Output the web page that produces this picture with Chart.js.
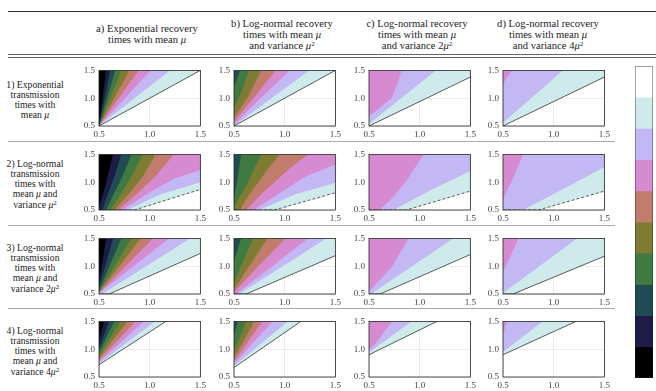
<!DOCTYPE html>
<html><head><meta charset="utf-8">
<script src="https://cdn.jsdelivr.net/npm/chart.js@4.4.0/dist/chart.umd.min.js"></script>
<style>
body{margin:0;width:656px;height:391px;background:#fff;position:relative;overflow:hidden;font-family:"Liberation Serif","Times New Roman","DejaVu Serif","Noto Serif",serif;color:#222}
.t{position:absolute;text-align:center;white-space:nowrap;transform:translate(-50%,-50%)}
.rule{position:absolute;height:0}
canvas{position:absolute}
sup{font-size:7px;line-height:0;vertical-align:3px}
</style></head><body>
<script>
// ---------- data ----------
const bandColors = ['#ffffff','#cfeaeb','#c3b7f4','#d68ad0','#c27c6d','#7e7c33','#3f7b40','#204c53','#1d1b47','#000000'];
const colorbarSteps = [1,1,1,1,1,1,1,1,1,1];
const tickValues = [0.5, 1, 1.5];
const colHeaders = [
  'a) Exponential recovery<br>times with mean <i>μ</i>',
  'b) Log-normal recovery<br>times with mean <i>μ</i><br>and variance <i>μ</i><sup>2</sup>',
  'c) Log-normal recovery<br>times with mean <i>μ</i><br>and variance 2<i>μ</i><sup>2</sup>',
  'd) Log-normal recovery<br>times with mean <i>μ</i><br>and variance 4<i>μ</i><sup>2</sup>'
];
const rowLabels = [
  '1) Exponential<br>transmission<br>times with<br>mean <i>μ</i>',
  '2) Log-normal<br>transmission<br>times with<br>mean <i>μ</i> and<br>variance <i>μ</i><sup>2</sup>',
  '3) Log-normal<br>transmission<br>times with<br>mean <i>μ</i> and<br>variance 2<i>μ</i><sup>2</sup>',
  '4) Log-normal<br>transmission<br>times with<br>mean <i>μ</i> and<br>variance 4<i>μ</i><sup>2</sup>'
];
// contour boundaries per panel: boundary k separates band k (below) from band k+1 (above)
const panel1a = [
  [[0.5,0.5],[1.5,1.5]], [[0.5,0.5],[1.20,1.5]], [[0.5,0.5],[1.01,1.5]], [[0.5,0.5],[0.89,1.5]],
  [[0.5,0.5],[0.80,1.5]], [[0.5,0.5],[0.72,1.5]], [[0.5,0.5],[0.66,1.5]], [[0.5,0.5],[0.61,1.5]], [[0.5,0.5],[0.57,1.5]]
];
const panel1b = [
  [[0.5,0.5],[1.5,1.5]], [[0.5,0.5],[1.24,1.5]], [[0.5,0.52],[0.76,1.0],[1.05,1.5]],
  [[0.5,0.57],[0.69,1.0],[0.91,1.5]], [[0.5,0.65],[0.63,1.0],[0.77,1.5]],
  [[0.5,0.82],[0.57,1.1],[0.65,1.5]], [[0.5,1.22],[0.56,1.5]]
];
const panel1c = [
  [[0.5,0.5],[1.5,1.38]], [[0.5,0.54],[1.16,1.5]],
  [[0.5,0.68],[0.6,0.82],[0.72,1.0],[0.78,1.25],[0.82,1.5]]
];
const panel1d = [
  [[0.5,0.5],[1.5,1.38]], [[0.5,0.56],[1.09,1.5]], [[0.5,1.27],[0.55,1.4],[0.59,1.5]]
];
const panel2a = [
  [[0.5,0.5],[0.85,0.5],[1.5,0.87]],
  [[0.5,0.5],[0.78,0.5],[1.1,0.78],[1.5,1.0]],
  [[0.5,0.5],[0.73,0.5],[1.0,0.82],[1.25,1.07],[1.5,1.22]],
  [[0.5,0.5],[0.69,0.5],[0.88,0.8],[1.05,1.1],[1.24,1.5]],
  [[0.5,0.5],[0.65,0.5],[0.8,0.8],[0.93,1.1],[1.06,1.5]],
  [[0.5,0.5],[0.61,0.5],[0.72,0.8],[0.82,1.1],[0.93,1.5]],
  [[0.5,0.5],[0.57,0.5],[0.65,0.8],[0.73,1.1],[0.82,1.5]],
  [[0.5,0.5],[0.53,0.5],[0.59,0.8],[0.65,1.1],[0.72,1.5]],
  [[0.5,0.55],[0.55,0.85],[0.59,1.15],[0.64,1.5]]
];
const panel2b = [
  [[0.5,0.5],[0.9,0.5],[1.5,0.81]],
  [[0.5,0.5],[0.75,0.5],[1.1,0.78],[1.5,0.99]],
  [[0.5,0.5],[0.69,0.5],[0.95,0.8],[1.2,1.1],[1.5,1.32]],
  [[0.5,0.5],[0.62,0.5],[0.75,0.75],[0.9,1.0],[1.05,1.25],[1.23,1.5]],
  [[0.5,0.5],[0.56,0.5],[0.64,0.75],[0.74,1.0],[0.84,1.25],[0.95,1.5]],
  [[0.5,0.55],[0.56,0.75],[0.64,1.0],[0.7,1.25],[0.77,1.5]],
  [[0.5,0.73],[0.53,1.0],[0.55,1.25],[0.57,1.5]]
];
const panel2c = [
  [[0.5,0.5],[0.87,0.5],[1.5,0.84]],
  [[0.5,0.5],[0.74,0.5],[1.1,0.85],[1.5,1.2]],
  [[0.5,0.5],[0.6,0.5],[0.72,0.7],[0.86,1.0],[0.95,1.25],[1.04,1.5]]
];
const panel2d = [
  [[0.5,0.5],[0.85,0.5],[1.5,0.84]],
  [[0.5,0.5],[0.7,0.5],[1.5,1.27]],
  [[0.5,0.7],[0.58,1.0],[0.64,1.25],[0.7,1.5]]
];
const panel3a = [
  [[0.5,0.5],[0.6,0.5],[1.5,1.23]], [[0.5,0.5],[0.53,0.5],[1.40,1.5]], [[0.5,0.52],[1.19,1.5]],
  [[0.5,0.52],[1.03,1.5]], [[0.5,0.53],[0.91,1.5]], [[0.5,0.54],[0.82,1.5]],
  [[0.5,0.56],[0.72,1.5]], [[0.5,0.62],[0.64,1.5]], [[0.5,0.72],[0.57,1.5]]
];
const panel3b = [
  [[0.5,0.5],[0.62,0.5],[1.5,1.19]], [[0.5,0.5],[0.55,0.5],[1.41,1.5]], [[0.5,0.5],[0.52,0.5],[1.23,1.5]],
  [[0.5,0.53],[0.74,1.0],[1.01,1.5]], [[0.5,0.58],[0.65,1.0],[0.83,1.5]],
  [[0.5,0.7],[0.58,1.05],[0.69,1.5]], [[0.5,1.1],[0.57,1.5]]
];
const panel3c = [
  [[0.5,0.5],[0.61,0.5],[1.5,1.21]], [[0.5,0.5],[0.52,0.5],[1.33,1.5]],
  [[0.5,0.55],[0.6,0.74],[0.73,1.0],[0.81,1.25],[0.89,1.5]]
];
const panel3d = [
  [[0.5,0.5],[0.6,0.5],[1.5,1.18]], [[0.5,0.52],[1.23,1.5]], [[0.5,0.9],[0.58,1.2],[0.65,1.5]]
];
const panel4a = [
  [[0.5,0.72],[1.16,1.5]], [[0.5,0.74],[1.05,1.5]], [[0.5,0.77],[0.94,1.5]], [[0.5,0.8],[0.86,1.5]],
  [[0.5,0.84],[0.78,1.5]], [[0.5,0.88],[0.71,1.5]], [[0.5,0.94],[0.65,1.5]], [[0.5,1.02],[0.6,1.5]], [[0.5,1.16],[0.55,1.5]]
];
const panel4b = [
  [[0.5,0.67],[1.16,1.5]], [[0.5,0.7],[1.03,1.5]], [[0.5,0.74],[0.88,1.5]], [[0.5,0.78],[0.78,1.5]],
  [[0.5,0.84],[0.7,1.5]], [[0.5,0.96],[0.62,1.5]], [[0.5,1.25],[0.54,1.5]]
];
const panel4c = [
  [[0.5,0.9],[1.17,1.5]], [[0.5,0.94],[0.92,1.5]], [[0.5,0.98],[0.6,1.18],[0.67,1.37],[0.73,1.5]]
];
const panel4d = [
  [[0.5,0.9],[1.22,1.5]], [[0.5,0.95],[0.89,1.5]], [[0.5,1.27],[0.54,1.5]]
];
const panels = [
  [panel1a, panel1b, panel1c, panel1d],
  [panel2a, panel2b, panel2c, panel2d],
  [panel3a, panel3b, panel3c, panel3d],
  [panel4a, panel4b, panel4c, panel4d]
];
const dashedRows = [false, true, false, false];

// ---------- layout ----------
const plotLefts = [99, 234, 369, 503];
const plotTops = [67, 151, 235, 318];
const plotW = 102, plotH = 59;
const padL = 22, padT = 6, padR = 8, padB = 14;
const FONT = '"Liberation Serif","Times New Roman","DejaVu Serif","Noto Serif",serif';

function addDiv(html, cls, x, y, extra){
  const d = document.createElement('div');
  d.className = cls; d.innerHTML = html;
  d.style.left = x + 'px'; d.style.top = y + 'px';
  if (extra) Object.assign(d.style, extra);
  document.body.appendChild(d);
  return d;
}
function rule(x1, x2, y, color){
  const d = document.createElement('div');
  d.className = 'rule';
  Object.assign(d.style, {left:x1+'px', top:y+'px', width:(x2-x1)+'px', borderTop:'1px solid '+color});
  document.body.appendChild(d);
}
rule(8, 656, 11, '#333');
rule(8, 656, 54, '#666');
rule(8, 656, 57, '#666');
[141, 225, 308].forEach(y => rule(8, 615, y, '#aaa'));

const headerX = [147, 282, 417, 548];
colHeaders.forEach((h, i) => addDiv(h, 't', headerX[i], 34, {lineHeight: '11px', fontSize: '10.6px'}));
rowLabels.forEach((h, i) => addDiv(h, 't', 35, plotTops[i] + plotH / 2 + 4, {lineHeight: '10.3px', fontSize: '9.7px'}));

const boxPlugin = {
  id: 'box',
  afterDraw(chart){
    const a = chart.chartArea, ctx = chart.ctx;
    ctx.save(); ctx.strokeStyle = '#222'; ctx.lineWidth = 0.8;
    ctx.strokeRect(a.left, a.top, a.right - a.left, a.bottom - a.top);
    ctx.restore();
  }
};

function axisOpts(isX){
  return {
    type: 'linear', min: 0.5, max: 1.5, z: 1,
    afterBuildTicks: s => { s.ticks = tickValues.map(v => ({value: v})); },
    afterFit: s => { if (isX) s.height = padB; else s.width = padL; },
    grid: {color: 'rgba(170,170,170,0.4)', lineWidth: 0.6, drawTicks: false},
    border: {display: false},
    ticks: {font: {family: FONT, size: 9}, color: '#444', padding: isX ? 3 : 4, maxRotation: 0, autoSkip: false}
  };
}

function makePanel(r, c){
  const bounds = panels[r][c];
  const cv = document.createElement('canvas');
  const w = plotW + padL + padR, h = plotH + padT + padB;
  cv.width = w; cv.height = h;
  cv.style.left = (plotLefts[c] - padL) + 'px';
  cv.style.top = (plotTops[r] - padT) + 'px';
  cv.style.width = w + 'px'; cv.style.height = h + 'px';
  document.body.appendChild(cv);
  const datasets = bounds.map((pts, k) => ({
    data: pts.map(p => ({x: p[0], y: p[1]})),
    fill: 'end', backgroundColor: bandColors[k + 1], borderColor: bandColors[k + 1],
    borderWidth: 0, pointRadius: 0, tension: 0, order: -k
  }));
  datasets.push({
    data: bounds[0].map(p => ({x: p[0], y: p[1]})),
    fill: false, borderColor: '#333', borderWidth: 0.8,
    borderDash: dashedRows[r] ? [3, 2] : [], pointRadius: 0, tension: 0, order: -100
  });
  new Chart(cv, {
    type: 'line',
    data: {datasets},
    options: {
      responsive: false, animation: false, events: [],
      layout: {padding: {left: 0, right: padR, top: padT, bottom: 0}},
      plugins: {legend: {display: false}, tooltip: {enabled: false}},
      scales: {x: axisOpts(true), y: axisOpts(false)}
    },
    plugins: [boxPlugin]
  });
}
for (let r = 0; r < 4; r++) for (let c = 0; c < 4; c++) makePanel(r, c);

// colorbar (white level at top, black at bottom)
const cb = document.createElement('canvas');
cb.width = 18; cb.height = 312;
Object.assign(cb.style, {left: '635px', top: '66px', width: '18px', height: '312px'});
document.body.appendChild(cb);
new Chart(cb, {
  type: 'bar',
  data: {labels: [''], datasets: colorbarSteps.map((v, i) => ({
    data: [v], backgroundColor: bandColors[i], borderWidth: 0, barPercentage: 1, categoryPercentage: 1
  }))},
  options: {
    responsive: false, animation: false, events: [],
    layout: {padding: 0},
    plugins: {legend: {display: false}, tooltip: {enabled: false}},
    scales: {
      x: {display: false, stacked: true},
      y: {display: false, stacked: true, reverse: true, min: 0, max: colorbarSteps.length}
    }
  },
  plugins: [boxPlugin]
});
</script>
</body></html>
